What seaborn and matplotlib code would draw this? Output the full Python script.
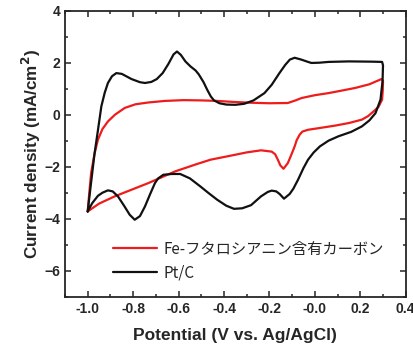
import numpy as np
import pandas as pd
import matplotlib
matplotlib.use("Agg")
import matplotlib.pyplot as plt
import seaborn as sns
from matplotlib.ticker import MultipleLocator

sns.set_style("ticks")
plt.rcParams["font.family"] = ["Liberation Sans", "DejaVu Sans"]

# Pt/C loop: anodic sweep (-1.0 -> 0.3) then cathodic sweep back
pt_anodic_v = [-1.0, -0.985, -0.97, -0.955, -0.94, -0.925, -0.911, -0.893, -0.874, -0.85,
               -0.807, -0.77, -0.748, -0.72, -0.696, -0.67, -0.645, -0.622, -0.607, -0.59,
               -0.57, -0.548, -0.525, -0.511, -0.49, -0.474, -0.458, -0.444, -0.42, -0.39,
               -0.35, -0.311, -0.27, -0.222, -0.19, -0.156, -0.13, -0.11, -0.089, -0.06,
               -0.03, -0.015, 0.02, 0.06, 0.15, 0.25, 0.296, 0.300]
pt_anodic_i = [-3.72, -2.6, -1.5, -0.6, 0.32, 0.85, 1.22, 1.48, 1.60, 1.57,
               1.37, 1.25, 1.22, 1.26, 1.37, 1.6, 1.95, 2.32, 2.43, 2.3,
               2.05, 1.86, 1.70, 1.55, 1.25, 0.96, 0.7, 0.55, 0.44, 0.39,
               0.38, 0.42, 0.55, 0.83, 1.15, 1.60, 1.92, 2.12, 2.19, 2.12,
               2.03, 1.99, 2.0, 2.03, 2.05, 2.04, 2.03, 1.9]
pt_cathodic_v = [0.298, 0.289, 0.267, 0.24, 0.207, 0.16, 0.104, 0.06, 0.022, -0.005,
                 -0.03, -0.05, -0.074, -0.095, -0.111, -0.136, -0.155, -0.17, -0.19, -0.207,
                 -0.237, -0.281, -0.32, -0.356, -0.39, -0.43, -0.47, -0.504, -0.55, -0.593,
                 -0.63, -0.667, -0.69, -0.704, -0.725, -0.748, -0.77, -0.793, -0.815, -0.84,
                 -0.867, -0.89, -0.911, -0.935, -0.955, -0.98, -1.0]
pt_cathodic_i = [1.3, 0.58, 0.06, -0.22, -0.45, -0.66, -0.83, -1.0, -1.22, -1.45,
                 -1.73, -2.05, -2.5, -2.85, -3.05, -3.23, -3.05, -2.95, -2.92, -2.97,
                 -3.14, -3.48, -3.6, -3.62, -3.5, -3.27, -3.0, -2.76, -2.45, -2.28,
                 -2.28, -2.31, -2.45, -2.63, -3.05, -3.53, -3.9, -4.04, -3.85, -3.5,
                 -3.14, -2.95, -2.91, -3.0, -3.12, -3.4, -3.72]

# Fe-phthalocyanine carbon loop
fe_anodic_v = [-1.0, -0.993, -0.985, -0.97, -0.955, -0.935, -0.911, -0.88, -0.837, -0.79,
               -0.733, -0.66, -0.578, -0.5, -0.43, -0.356, -0.28, -0.2, -0.119, -0.085,
               -0.059, 0.0, 0.06, 0.12, 0.178, 0.24, 0.293, 0.300]
fe_anodic_i = [-3.72, -3.0, -2.24, -1.5, -0.96, -0.55, -0.26, 0.0, 0.26, 0.4,
               0.47, 0.53, 0.56, 0.55, 0.53, 0.49, 0.46, 0.44, 0.45, 0.55,
               0.64, 0.75, 0.83, 0.93, 1.03, 1.17, 1.37, 1.3]
fe_cathodic_v = [0.299, 0.296, 0.28, 0.259, 0.235, 0.207, 0.15, 0.089, 0.03, -0.03,
                 -0.055, -0.067, -0.08, -0.089, -0.104, -0.119, -0.138, -0.152, -0.163, -0.175,
                 -0.19, -0.237, -0.3, -0.356, -0.459, -0.52, -0.615, -0.733, -0.881, -0.95,
                 -1.0]
fe_cathodic_i = [0.95, 0.58, 0.3, 0.13, -0.05, -0.19, -0.32, -0.42, -0.5, -0.58,
                 -0.65, -0.77, -0.98, -1.22, -1.55, -1.86, -2.08, -1.95, -1.73, -1.52,
                 -1.42, -1.37, -1.45, -1.55, -1.73, -1.9, -2.18, -2.63, -3.14, -3.42,
                 -3.72]

fe_label = "Fe-フタロシアニン含有カーボン"
pt_label = "Pt/C"

fe = pd.DataFrame({"V": fe_anodic_v + fe_cathodic_v, "I": fe_anodic_i + fe_cathodic_i})
pt = pd.DataFrame({"V": pt_anodic_v + pt_cathodic_v, "I": pt_anodic_i + pt_cathodic_i})

fig = plt.figure(figsize=(4.14, 3.45), dpi=100)
ax = fig.add_axes([0.157, 0.14, 0.823, 0.829])

sns.lineplot(data=fe, x="V", y="I", sort=False, estimator=None, color="#ee1c1c",
             linewidth=1.6, label=fe_label, ax=ax)
sns.lineplot(data=pt, x="V", y="I", sort=False, estimator=None, color="#111111",
             linewidth=1.6, label=pt_label, ax=ax)

ax.set_xlim(-1.1, 0.4)
ax.set_ylim(-7, 4)
ax.xaxis.set_minor_locator(MultipleLocator(0.1))
ax.yaxis.set_major_locator(MultipleLocator(2))
ax.yaxis.set_minor_locator(MultipleLocator(1))
xt = np.arange(-1.0, 0.41, 0.2)
ax.set_xticks(xt)
ax.set_xticklabels([f"{t:.1f}" for t in xt])
ax.tick_params(which="both", direction="in", top=True, right=True, width=1.1,
               labelsize=10)
ax.tick_params(which="major", length=4)
ax.tick_params(which="minor", length=2.5)
for lab in ax.get_xticklabels() + ax.get_yticklabels():
    lab.set_fontweight("bold")
for s in ax.spines.values():
    s.set_linewidth(1.3)

ax.set_xlabel("Potential (V vs. Ag/AgCl)", fontsize=12.5, fontweight="bold", labelpad=9)
ax.set_ylabel("Current density (mA/cm$^\\mathbf{2}$)", fontsize=12.3, fontweight="bold",
              labelpad=1)

ax.legend(loc="lower left", bbox_to_anchor=(0.1, 0.005), frameon=False,
          handlelength=2.9, handletextpad=0.4, labelspacing=0.45,
          prop={"family": ["Noto Sans CJK JP", "DejaVu Sans"], "size": 11})

fig.savefig("out.png", dpi=100)
